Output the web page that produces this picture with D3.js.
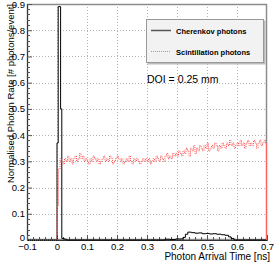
<!DOCTYPE html>
<html>
<head>
<meta charset="utf-8">
<script src="https://cdn.jsdelivr.net/npm/d3@7"></script>
<style>
  body { margin: 0; background: #fff; }
  text { font-family: "Liberation Sans", Arial, sans-serif; }
</style>
</head>
<body>
<svg id="chart"></svg>
<script>
// x ticks, y ticks
var xTicks = [-0.1, 0, 0.1, 0.2, 0.3, 0.4, 0.5, 0.6, 0.7];
var yTicks = [0, 0.1, 0.2, 0.3, 0.4, 0.5, 0.6, 0.7, 0.8, 0.9];

// Cherenkov histogram: bin start times (ns) and rates, last edge 0.7
var chStart = [-0.1, 0, 0.004, 0.012, 0.016, 0.024, 0.032, 0.36, 0.376, 0.396, 0.42, 0.428, 0.436, 0.448,
  0.46, 0.472, 0.484, 0.496, 0.508, 0.52, 0.532, 0.548, 0.56, 0.572, 0.58, 0.59];
var chRate = [0, 0.37, 0.89, 0.50, 0.006, 0.003, 0, 0.003, 0.002, 0.004, 0.01, 0.022, 0.03, 0.028,
  0.026, 0.027, 0.024, 0.025, 0.023, 0.024, 0.022, 0.02, 0.018, 0.012, 0.006, 0];

// Scintillation histogram, 0.005 ns bins from 0 to 0.7
var scBin = 0.005;
var scRate = [0.13, 0.27,
  0.31, 0.30, 0.29, 0.31, 0.30, 0.32, 0.30, 0.31, 0.29, 0.31, 0.32, 0.30, 0.31, 0.33, 0.31, 0.32, 0.30, 0.31,
  0.30, 0.29, 0.31, 0.30, 0.32, 0.31, 0.30, 0.31, 0.29, 0.30, 0.31, 0.32, 0.30, 0.31, 0.30, 0.32, 0.31, 0.29, 0.30, 0.31,
  0.32, 0.31, 0.30, 0.31, 0.29, 0.30, 0.31, 0.30, 0.32, 0.30, 0.29, 0.31, 0.30, 0.31, 0.30, 0.29, 0.30, 0.31, 0.30, 0.31,
  0.30, 0.31, 0.29, 0.30, 0.31, 0.30, 0.32, 0.31, 0.30, 0.32, 0.31, 0.30, 0.32, 0.33, 0.31, 0.32, 0.31, 0.33, 0.32, 0.33,
  0.32, 0.34, 0.33, 0.32, 0.34, 0.33, 0.35, 0.34, 0.32, 0.35, 0.34, 0.36, 0.33, 0.35, 0.34, 0.36, 0.35, 0.34, 0.36, 0.35,
  0.37, 0.34, 0.35, 0.36, 0.35, 0.37, 0.36, 0.34, 0.36, 0.35, 0.37, 0.36, 0.35, 0.37, 0.36, 0.38, 0.36, 0.37, 0.35, 0.36,
  0.37, 0.36, 0.38, 0.36, 0.37, 0.35, 0.37, 0.38, 0.36, 0.37, 0.36, 0.38, 0.37, 0.35, 0.37, 0.38, 0.36, 0.37, 0.38, 0.37];

var seriesNames = ["Cherenkov photons", "Scintillation photons"];
var annotation = "DOI = 0.25 mm";

var margin = {top: 4, right: 7, bottom: 23, left: 27},
    W = 274, H = 263,
    width = W - margin.left - margin.right,
    height = H - margin.top - margin.bottom;

var svg = d3.select("#chart").attr("width", W).attr("height", H);
var g = svg.append("g").attr("transform", "translate(" + margin.left + "," + margin.top + ")");

var x = d3.scaleLinear().domain([-0.1, 0.7]).range([0, width]);
var y = d3.scaleLinear().domain([0, 0.9]).range([height, 0]);

// grid
g.append("g").selectAll("line").data(xTicks.slice(1, -1)).enter().append("line")
  .attr("x1", d => Math.round(x(d)) + 0.5).attr("x2", d => Math.round(x(d)) + 0.5)
  .attr("y1", 0).attr("y2", height)
  .attr("stroke", "#b4b4b4").attr("stroke-dasharray", "1,2");
g.append("g").selectAll("line").data(yTicks.slice(1, -1)).enter().append("line")
  .attr("y1", d => Math.round(y(d)) + 0.5).attr("y2", d => Math.round(y(d)) + 0.5)
  .attr("x1", 0).attr("x2", width)
  .attr("stroke", "#b4b4b4").attr("stroke-dasharray", "1,2");

// frame
g.append("rect").attr("x", 0.5).attr("y", 0.5).attr("width", width - 1).attr("height", height - 1)
  .attr("fill", "none").attr("stroke", "#8c8c8c").attr("stroke-width", 1.5);

// axes with inward ticks
var fmt = d => d === 0 ? "0" : d3.format(".1f")(d);
var yAxis = g.append("g")
  .call(d3.axisLeft(y).tickValues(yTicks).tickSize(-5).tickPadding(2).tickFormat(fmt));
var xAxis = g.append("g").attr("transform", "translate(0," + height + ")")
  .call(d3.axisBottom(x).tickValues(xTicks).tickSize(-5).tickPadding(3).tickFormat(fmt));

[yAxis, xAxis].forEach(function (a) {
  a.select(".domain").attr("stroke", "#333");
  a.selectAll(".tick line").attr("stroke", "#555");
  a.selectAll(".tick text").attr("fill", "#000").style("font-size", "9.5px")
    .style("font-family", "'Liberation Sans', Arial, sans-serif");
});
// nudge the y "0" label up a touch so it clears "-0.1"
yAxis.selectAll(".tick text").filter(d => d === 0).attr("dy", "0.1em");

// minor ticks
var yMinor = d3.range(0, 0.9001, 0.02).filter(v => Math.abs(v * 10 - Math.round(v * 10)) > 1e-6);
g.append("g").selectAll("line").data(yMinor).enter().append("line")
  .attr("x1", 0).attr("x2", 3)
  .attr("y1", d => Math.round(y(d)) + 0.5).attr("y2", d => Math.round(y(d)) + 0.5)
  .attr("stroke", "#555");
var xMinor = d3.range(-0.1, 0.7001, 0.02).filter(v => Math.abs(v * 10 - Math.round(v * 10)) > 1e-6);
g.append("g").selectAll("line").data(xMinor).enter().append("line")
  .attr("y1", height).attr("y2", height - 3)
  .attr("x1", d => Math.round(x(d)) + 0.5).attr("x2", d => Math.round(x(d)) + 0.5)
  .attr("stroke", "#555");

// step path builder
function stepPts(starts, vals, end) {
  var pts = [];
  for (var i = 0; i < starts.length; i++) {
    var t1 = i + 1 < starts.length ? starts[i + 1] : end;
    pts.push([starts[i], vals[i]]);
    pts.push([t1, vals[i]]);
  }
  return pts;
}
var line = d3.line().x(d => x(d[0])).y(d => y(d[1]));

// Cherenkov
var chPts = stepPts(chStart, chRate, 0.7);
chPts.push([0.7, 0]);
g.append("path").datum(chPts).attr("d", line)
  .attr("fill", "none").attr("stroke", "#000").attr("stroke-width", 1);

// Scintillation
var scStart = [-0.1].concat(scRate.map((v, i) => i * scBin));
var scVals = [0].concat(scRate);
var scPts = stepPts(scStart, scVals, 0.7);
g.append("path").datum(scPts).attr("d", line)
  .attr("fill", "none").attr("stroke", "#ff5050").attr("stroke-width", 1).attr("stroke-dasharray", "1,1");
g.append("line")
  .attr("x1", x(0.7) - 0.5).attr("x2", x(0.7) - 0.5)
  .attr("y1", y(scRate[scRate.length - 1])).attr("y2", y(0))
  .attr("stroke", "#ff6060").attr("stroke-width", 1);

// legend
var lg = svg.append("g").attr("transform", "translate(146,19)");
lg.append("rect").attr("x", 1.5).attr("y", 1.5).attr("width", 118).attr("height", 44).attr("fill", "#bbb");
lg.append("rect").attr("x", 0.5).attr("y", 0.5).attr("width", 117).attr("height", 43)
  .attr("fill", "#f2f2f2").attr("stroke", "#999");
var entries = lg.selectAll(".entry").data(seriesNames).enter().append("g")
  .attr("transform", (d, i) => "translate(0," + (11 + i * 21) + ")");
entries.append("line").attr("x1", 5).attr("x2", 25).attr("y1", 0.5).attr("y2", 0.5)
  .attr("stroke", (d, i) => i === 0 ? "#555" : "#ff7070")
  .attr("stroke-width", (d, i) => i === 0 ? 1.5 : 1)
  .attr("stroke-dasharray", (d, i) => i === 0 ? null : "1,1");
entries.append("text").attr("x", 30).attr("y", 3.5)
  .style("font-size", "7.5px").style("font-weight", "bold").text(d => d);

// annotation
svg.append("text").attr("x", 147).attr("y", 83).style("font-size", "10.5px").text(annotation);

// axis titles
svg.append("text").attr("x", 270).attr("y", 260).attr("text-anchor", "end")
  .style("font-size", "10px").text("Photon Arrival Time [ns]");
svg.append("text").attr("transform", "translate(14,4) rotate(-90)").attr("text-anchor", "end")
  .style("font-size", "9.5px").text("Normalised Photon Rate [# photons/event]");
</script>
</body>
</html>
